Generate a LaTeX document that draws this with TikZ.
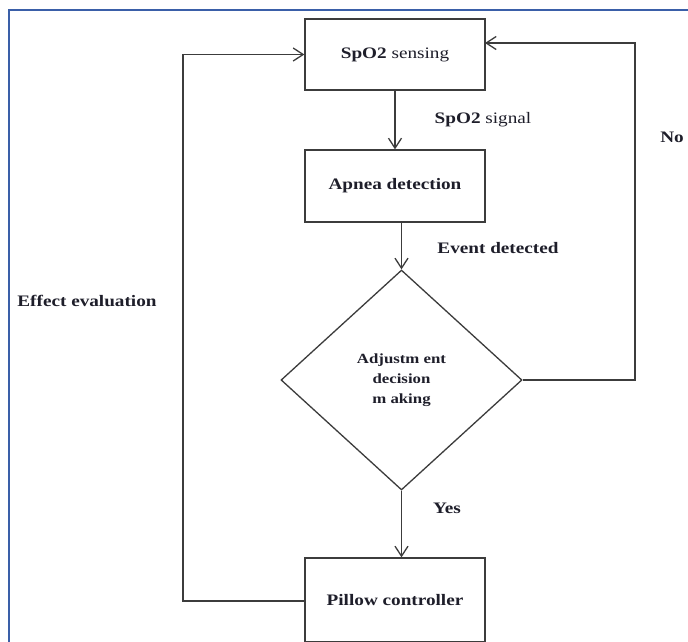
\documentclass[tikz,border=0pt]{standalone}
\usepackage{fontspec}
\setmainfont{Liberation Serif}[FakeStretch=1.2]
\usetikzlibrary{arrows.meta,shapes.geometric}
\definecolor{linec}{HTML}{3C3C3C}
\definecolor{framec}{HTML}{3A5FA8}
\definecolor{txtc}{HTML}{1E1E2A}
\tikzset{
  box/.style={draw=linec, line width=1.3pt, minimum width=180pt, inner sep=0pt, text=txtc,
    font=\fontsize{16}{19}\selectfont\bfseries},
  lbl/.style={inner sep=0pt, text=txtc, font=\fontsize{16}{19}\selectfont\bfseries},
  conn/.style={draw=linec, line width=1.3pt},
  arr/.style={conn, -{Straight Barb[length=10pt,width=13pt,line width=1.3pt]}},
}
\begin{document}
\begin{tikzpicture}[x=1pt,y=-1pt]
\useasboundingbox (0,0) rectangle (688,641);
\fill[white] (0,0) rectangle (688,641);
\draw[framec, line width=2pt] (9,643) -- (9,10) -- (690,10);

\node[box, minimum height=71pt] (sense) at (395,54.5) {SpO2 \mdseries sensing};
\node[box, minimum height=72pt] (apnea) at (395,186) {Apnea detection};
\node[diamond, draw=linec, line width=1.3pt, minimum width=241pt, minimum height=220pt,
  inner sep=0pt, align=center, text=txtc, font=\fontsize{14}{20}\selectfont\bfseries] (dec) at (401.5,380)
  {Adjustm ent\\decision\\m aking};
\node[box, minimum height=84pt] (pillow) at (395,600) {Pillow controller};

\coordinate (sE) at (485,43);
\coordinate (rc1) at (635,380);
\coordinate (rc2) at (635,43);
\coordinate (lc1) at (183,601);
\coordinate (lc2) at (183,54.5);

\draw[arr] (sense.south) -- (apnea.north);
\draw[arr] (dec.north |- apnea.south) -- (dec.north);
\draw[arr] (dec.south) -- (dec.south |- pillow.north);
\draw[arr] (dec.east) -- (rc1) -- (rc2) -- (sE);
\draw[arr] (pillow.west |- lc1) -- (lc1) -- (lc2) -- (sense.west);

\node[lbl] (l1) at (483,120) {SpO2 \mdseries signal};
\node[lbl] (l2) at (498,248) {Event detected};
\node[lbl] (l3) at (672,137) {No};
\node[lbl] (l4) at (87,301) {Effect evaluation};
\node[lbl] (l5) at (447,508) {Yes};
\end{tikzpicture}
\end{document}
